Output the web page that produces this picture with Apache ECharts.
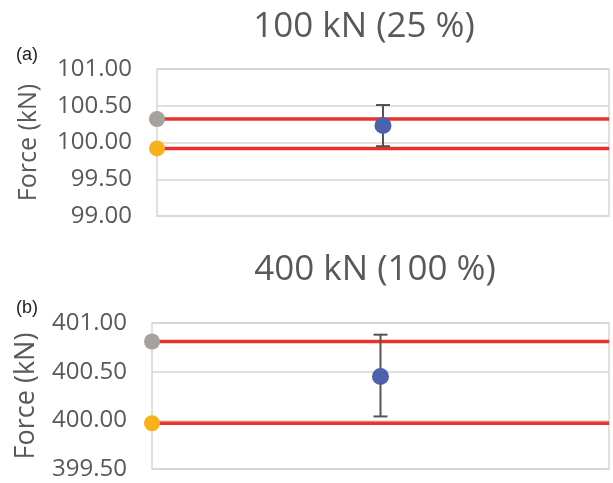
<!DOCTYPE html>
<html>
<head>
<meta charset="utf-8">
<script src="https://cdn.jsdelivr.net/npm/echarts@6/dist/echarts.min.js"></script>
<style>
  html, body { margin: 0; padding: 0; background: #fff; }
  #chart { width: 613px; height: 483px; }
</style>
</head>
<body>
<div id="chart"></div>
<script>
// one entry per panel: (a) 100 kN, (b) 400 kN
const panelTitles = ['100 kN (25 %)', '400 kN (100 %)'];
const panelTags = ['(a)', '(b)'];
const refUpper = [100.32, 400.81];   // grey reference
const refLower = [99.92, 399.97];    // yellow reference
const measured = [100.23, 400.45];   // blue mean
const errLow = [99.95, 400.04];
const errHigh = [100.51, 400.88];
const yMin = [99.0, 399.5];
const yMax = [101.0, 401.0];
const yStep = 0.5;

const TEXT = '#595959';
const GRID = '#d9d5d2';
const RED = '#e8332b';

const chart = echarts.init(document.getElementById('chart'));

const grids = [
  { left: 157, right: 4, top: 69, height: 147 },
  { left: 152, right: 4, top: 323, height: 146 },
];

const xAxis = grids.map((_, i) => ({
  type: 'value', gridIndex: i, min: 0, max: 1, show: false,
}));

const yAxis = grids.map((_, i) => ({
  type: 'value',
  gridIndex: i,
  min: yMin[i],
  max: yMax[i],
  interval: yStep,
  name: 'Force (kN)',
  nameLocation: 'middle',
  nameGap: i === 0 ? 116 : 112,
  nameTextStyle: { fontFamily: 'Open Sans', fontSize: i === 0 ? 25 : 27, color: TEXT },
  axisLine: { show: false },
  axisTick: { show: false },
  splitLine: { show: true, lineStyle: { color: GRID, width: 1.5 } },
  axisLabel: {
    margin: 25,
    fontFamily: 'Open Sans',
    fontSize: 24,
    color: TEXT,
    formatter: (v) => v.toFixed(2),
  },
}));

const series = [];
grids.forEach((_, i) => {
  // red horizontal reference lines with their dots at the left edge
  [[refUpper[i], '#a5a19f'], [refLower[i], '#f7b21b']].forEach(([v, dot]) => {
    series.push({
      type: 'line',
      xAxisIndex: i, yAxisIndex: i,
      data: [[0, v], [1, v]],
      symbol: 'none',
      lineStyle: { color: RED, width: 3.5 },
      z: 3,
    });
    series.push({
      type: 'scatter',
      xAxisIndex: i, yAxisIndex: i,
      data: [[0, v]],
      symbolSize: 16,
      itemStyle: { color: dot, opacity: 1 },
      z: 4,
    });
  });
  // error bar
  series.push({
    type: 'custom',
    xAxisIndex: i, yAxisIndex: i,
    data: [[0.5, errLow[i], errHigh[i]]],
    renderItem: (params, api) => {
      const lo = api.coord([api.value(0), api.value(1)]);
      const hi = api.coord([api.value(0), api.value(2)]);
      const w = 7;
      const style = { stroke: '#595350', lineWidth: 2 };
      return {
        type: 'group',
        children: [
          { type: 'line', shape: { x1: lo[0], y1: lo[1], x2: hi[0], y2: hi[1] }, style },
          { type: 'line', shape: { x1: lo[0] - w, y1: lo[1], x2: lo[0] + w, y2: lo[1] }, style },
          { type: 'line', shape: { x1: hi[0] - w, y1: hi[1], x2: hi[0] + w, y2: hi[1] }, style },
        ],
      };
    },
    z: 5,
  });
  series.push({
    type: 'scatter',
    xAxisIndex: i, yAxisIndex: i,
    data: [[0.5, measured[i]]],
    symbolSize: 17,
    itemStyle: { color: '#4e61ab', opacity: 1 },
    z: 6,
  });
});

const titlePos = [[364, 27], [375, 270]];
const tagPos = [[16, 55], [16, 308]];

chart.setOption({
  animation: false,
  grid: grids.map((g) => ({ ...g, show: true, borderColor: GRID, borderWidth: 1.5, backgroundColor: 'transparent' })),
  xAxis,
  yAxis,
  series,
  graphic: [
    ...panelTitles.map((t, i) => ({
      type: 'text',
      x: titlePos[i][0], y: titlePos[i][1],
      style: {
        text: t, fill: TEXT, fontFamily: 'Open Sans', fontSize: 35,
        textAlign: 'center', textVerticalAlign: 'middle',
      },
    })),
    ...panelTags.map((t, i) => ({
      type: 'text',
      x: tagPos[i][0], y: tagPos[i][1],
      style: {
        text: t, fill: '#222', fontFamily: 'Liberation Sans', fontSize: 18,
        textAlign: 'left', textVerticalAlign: 'middle',
      },
    })),
  ],
});
</script>
</body>
</html>
